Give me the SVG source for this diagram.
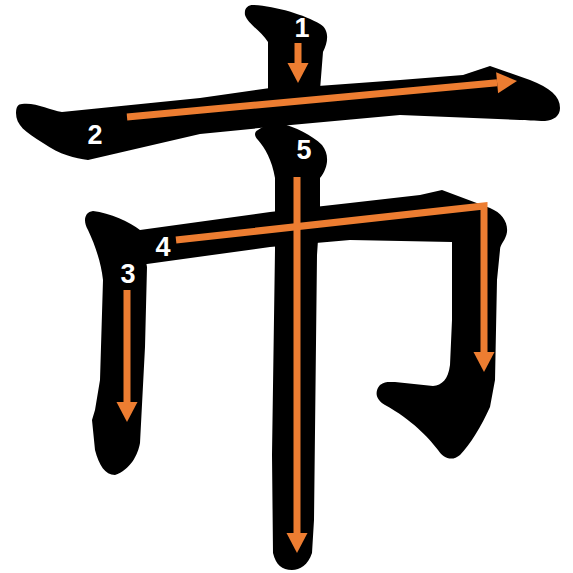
<svg xmlns="http://www.w3.org/2000/svg" width="573" height="573" viewBox="0 0 573 573">
<style>
.ink{fill:#000}
.arr{fill:none;stroke:#ED7D31;stroke-width:7;stroke-linecap:butt;stroke-linejoin:miter;marker-end:url(#ah)}
.num{fill:#fff;font-family:"Liberation Sans",Arial,sans-serif;font-weight:bold;font-size:27px;text-anchor:middle}
</style>
<defs>
<marker id="ah" markerUnits="userSpaceOnUse" markerWidth="20" markerHeight="21" refX="0" refY="10.5" orient="auto" overflow="visible">
<path d="M0,0 L20,10.5 L0,21 Z" fill="#ED7D31"/>
</marker>
</defs>
<g id="strokes">
<path id="s1" class="ink" d="M253,5 C275,6 305,15 320,24 C330,30 328,42 323,52 L320,90 L268,92 L268,42 C262,32 248,24 245,15 C244,8 248,5 253,5 Z"/>
<path id="s2" class="ink" d="M22,104 C35,102 50,110 62,112 L200,98 L270,88 L318,86 L400,80 L463,75 L490,66 L530,80 C550,88 560,96 560,108 C560,116 554,120 545,121 C535,121 525,120 520,120 L400,115 L280,126 L200,134 L88,160 C75,158 60,155 43,143 C25,132 16,125 16,113 C16,107 18,104 22,104 Z"/>
<path id="s3" class="ink" d="M93,211 C110,213 130,222 140,230 L147,267 L145,347 L140,443 C138,455 130,470 115,475 C105,475 99,465 95,450 L92,420 L95,410 L100,380 L103,280 C101,262 95,245 88,230 C83,222 84,212 93,211 Z"/>
<path id="s4" class="ink" d="M125,232 L140,230 L270,212 L350,203 L420,195 L442,190 L490,208 C502,213 508,222 507,232 C506,240 500,244 500,250 L497,280 L495,380 L490,407 C482,425 470,445 460,455 C452,462 443,458 438,450 C428,437 412,420 385,405 C376,400 374,392 380,385 C385,381 390,382 395,382 L433,386 C442,385 448,380 450,365 L452,320 L452,242 L350,240 L270,247 L147,264 L125,267 Z"/>
<path id="s5" class="ink" d="M258,130 C265,125 272,123 280,123 C295,127 312,135 322,145 C330,155 328,168 320,178 L320,210 L317,255 L314,520 L312,553 C308,565 300,570 292,570 C282,570 276,565 273,553 L272,455 L275,250 L275,178 C272,160 265,148 258,140 C254,136 254,132 258,130 Z"/>
</g>
<g id="arrows">
<path id="a1" class="arr" d="M298,43 L298,63"/>
<path id="a2" class="arr" d="M127,117 L497.1,82.8"/>
<path id="a3" class="arr" d="M127,290 L127,402"/>
<path id="a4" class="arr" d="M176,240 L484,206 L484,352"/>
<path id="a5" class="arr" d="M297,177 L297,533"/>
</g>
<g id="labels">
<text class="num" x="302" y="37">1</text>
<text class="num" x="95" y="144">2</text>
<text class="num" x="128" y="283">3</text>
<text class="num" x="163" y="256">4</text>
<text class="num" x="304" y="159">5</text>
</g>
</svg>
